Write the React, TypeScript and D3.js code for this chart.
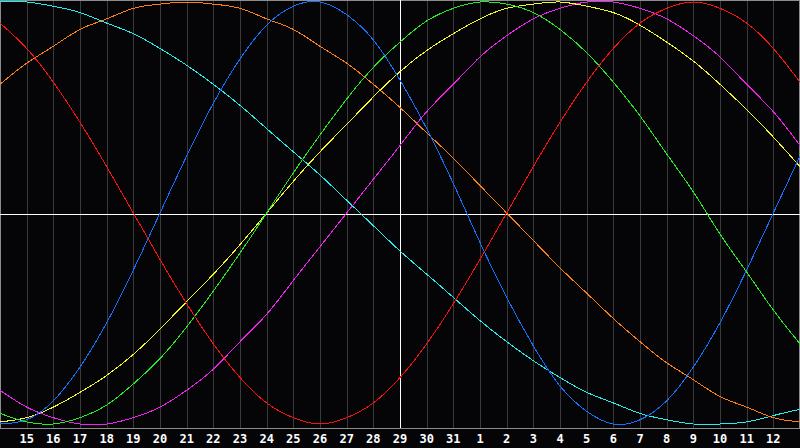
import * as d3 from 'd3';
import React from 'react';

// Day numbers for each sample column (the first and last are not labelled).
const days = [14, 15, 16, 17, 18, 19, 20, 21, 22, 23, 24, 25, 26, 27, 28, 29, 30, 31, 1, 2, 3, 4, 5, 6, 7, 8, 9, 10, 11, 12, 13];

// Cycle values, one per day.
const physical = [-1.0, -0.98, -0.89, -0.73, -0.52, -0.27, 0, 0.27, 0.52, 0.73, 0.89, 0.98, 1.0, 0.94, 0.82, 0.63, 0.4, 0.14, -0.14, -0.4, -0.63, -0.82, -0.94, -1.0, -0.98, -0.89, -0.73, -0.52, -0.27, 0, 0.27];
const emotional = [0.9, 0.78, 0.62, 0.43, 0.22, 0, -0.22, -0.43, -0.62, -0.78, -0.9, -0.97, -1.0, -0.97, -0.9, -0.78, -0.62, -0.43, -0.22, 0, 0.22, 0.43, 0.62, 0.78, 0.9, 0.97, 1.0, 0.97, 0.9, 0.78, 0.62];
const intellectual = [-0.95, -0.99, -1.0, -0.97, -0.91, -0.81, -0.69, -0.54, -0.37, -0.19, 0, 0.19, 0.37, 0.54, 0.69, 0.81, 0.91, 0.97, 1.0, 0.99, 0.95, 0.87, 0.76, 0.62, 0.46, 0.28, 0.1, -0.1, -0.28, -0.46, -0.62];
const intuitive = [-0.84, -0.92, -0.97, -1.0, -1.0, -0.97, -0.92, -0.84, -0.74, -0.61, -0.48, -0.32, -0.16, 0, 0.16, 0.32, 0.48, 0.61, 0.74, 0.84, 0.92, 0.97, 1.0, 1.0, 0.97, 0.92, 0.84, 0.74, 0.61, 0.48, 0.32];
const aesthetic = [-0.99, -0.97, -0.92, -0.85, -0.77, -0.67, -0.55, -0.42, -0.29, -0.15, 0, 0.15, 0.29, 0.42, 0.55, 0.67, 0.77, 0.85, 0.92, 0.97, 0.99, 1.0, 0.98, 0.95, 0.89, 0.81, 0.72, 0.61, 0.49, 0.36, 0.22];
const awareness = [0.61, 0.71, 0.79, 0.87, 0.92, 0.97, 0.99, 1.0, 0.99, 0.97, 0.92, 0.87, 0.79, 0.71, 0.61, 0.5, 0.38, 0.26, 0.13, 0, -0.13, -0.26, -0.38, -0.5, -0.61, -0.71, -0.79, -0.87, -0.92, -0.97, -0.99];
const spiritual = [1.0, 1.0, 0.98, 0.95, 0.9, 0.85, 0.78, 0.7, 0.61, 0.51, 0.4, 0.29, 0.18, 0.06, -0.06, -0.18, -0.29, -0.4, -0.51, -0.61, -0.7, -0.78, -0.85, -0.9, -0.95, -0.98, -1.0, -1.0, -0.99, -0.96, -0.93];

const series = [
    { name: 'spiritual', values: spiritual, color: '#22f0f0' },
    { name: 'awareness', values: awareness, color: '#ff8012' },
    { name: 'intuitive', values: intuitive, color: '#f022f0' },
    { name: 'aesthetic', values: aesthetic, color: '#f8f822' },
    { name: 'intellectual', values: intellectual, color: '#22ee22' },
    { name: 'emotional', values: emotional, color: '#ff1010' },
    { name: 'physical', values: physical, color: '#1470ff' },
];

const App = (): React.ReactElement => {
    const width = 800;
    const height = 448;
    const plotBottom = 428;

    const x = d3.scaleLinear().domain([0, days.length - 1]).range([0, width]);
    const y = d3.scaleLinear().domain([-1, 1]).range([424, 2]);

    const line = d3
        .line<number>()
        .x((_, i) => x(i))
        .y((d) => y(d))
        .curve(d3.curveNatural);

    const mid = Math.floor(x((days.length - 1) / 2));

    return (
        <svg
            width={width}
            height={height}
            style={{ position: 'absolute', left: 0, top: 0, background: '#050508', display: 'block' }}
        >
            <rect x={0} y={0} width={width} height={height} fill="#050508" />

            {/* day grid */}
            {days.map((d, i) =>
                i > 0 && i < days.length - 1 ? (
                    <line
                        key={'g' + i}
                        x1={Math.round(x(i)) + 0.5}
                        x2={Math.round(x(i)) + 0.5}
                        y1={0}
                        y2={plotBottom}
                        stroke="#3a3a3a"
                        strokeWidth={1}
                        shapeRendering="crispEdges"
                    />
                ) : null,
            )}

            {/* border */}
            <rect
                x={0.5}
                y={0.5}
                width={width - 1}
                height={plotBottom}
                fill="none"
                stroke="#8c8c8c"
                strokeWidth={1}
                shapeRendering="crispEdges"
            />

            {/* centre lines */}
            <line x1={0} x2={width} y1={214.5} y2={214.5} stroke="#ffffff" strokeWidth={1} shapeRendering="crispEdges" />
            <line x1={mid + 0.5} x2={mid + 0.5} y1={0} y2={plotBottom} stroke="#ffffff" strokeWidth={1} shapeRendering="crispEdges" />

            {/* cycles */}
            {series.map((s) => (
                <path
                    key={s.name}
                    d={line(s.values) as string}
                    fill="none"
                    stroke={s.color}
                    strokeWidth={1}
                    shapeRendering="crispEdges"
                />
            ))}

            {/* day labels */}
            {days.map((d, i) =>
                i > 0 && i < days.length - 1 ? (
                    <text
                        key={'t' + i}
                        x={x(i)}
                        y={443}
                        fill="#ffffff"
                        textAnchor="middle"
                        fontFamily="'DejaVu Sans Mono', monospace"
                        fontWeight="bold"
                        fontSize={12}
                    >
                        {d}
                    </text>
                ) : null,
            )}
        </svg>
    );
};

export default App;
